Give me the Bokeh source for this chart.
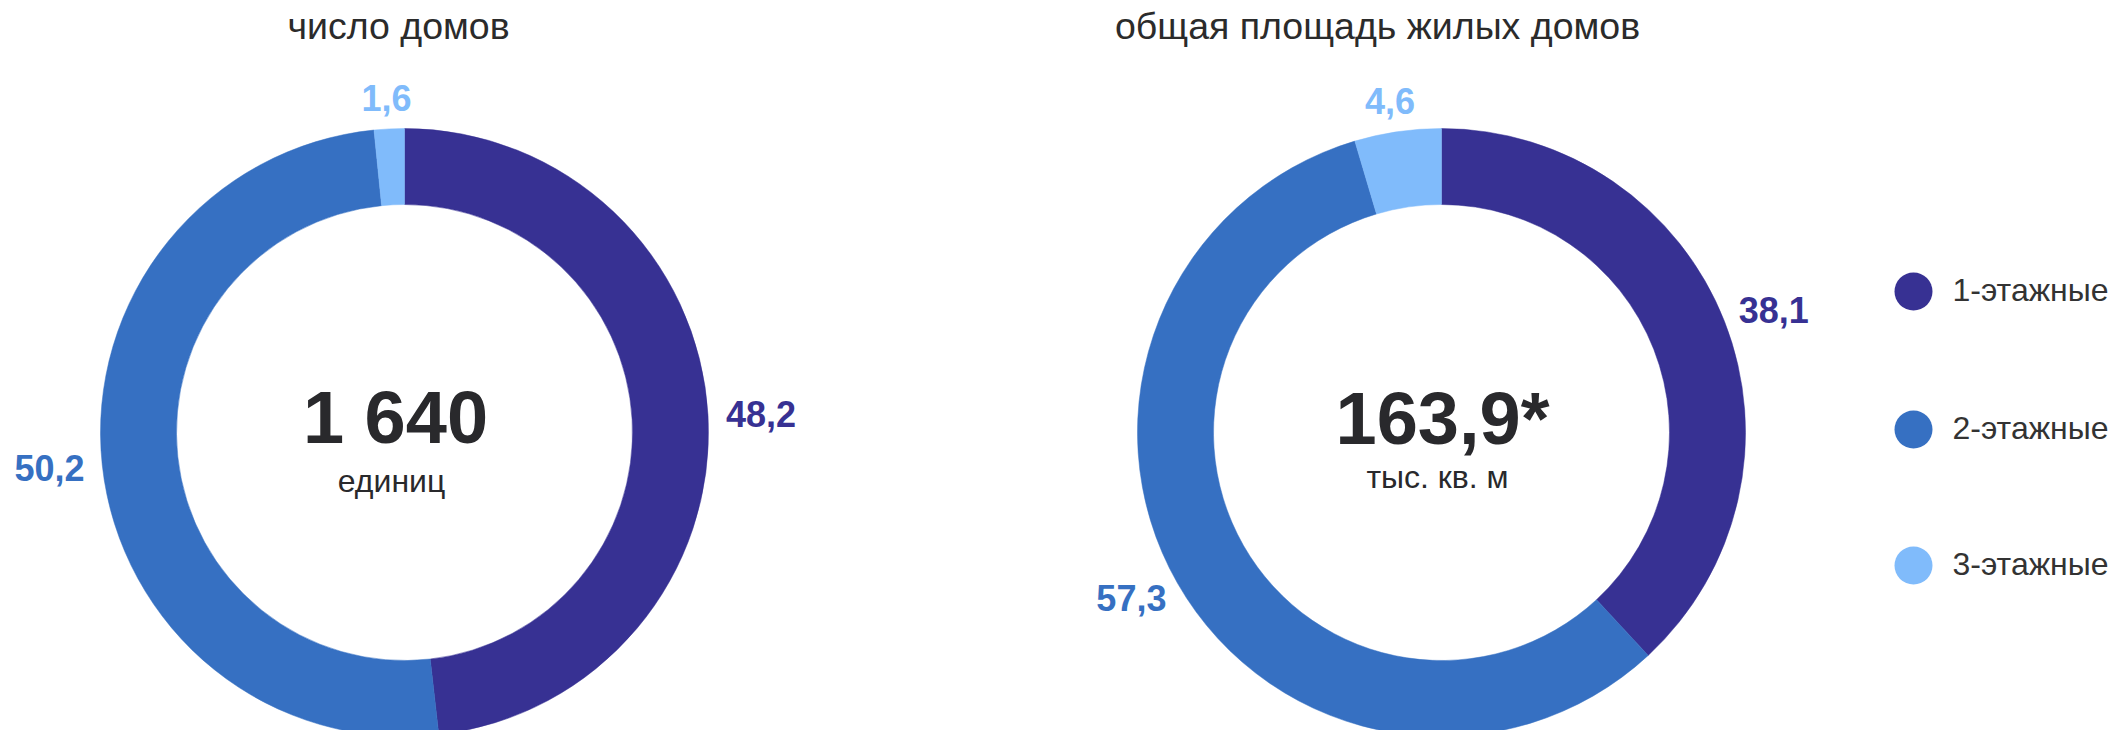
import numpy as np
from bokeh.plotting import figure
from bokeh.models import ColumnDataSource, Range1d
from bokeh.core.properties import value
from bokeh.embed import file_html
from bokeh.resources import INLINE

# ---------------- data ----------------
categories = ["1-этажные", "2-этажные", "3-этажные"]
houses_share = [48.2, 50.2, 1.6]      # % of number of houses
area_share = [38.1, 57.3, 4.6]        # % of total floor area
houses_total = "1 640"
houses_unit = "единиц"
area_total = "163,9*"
area_unit = "тыс. кв. м"
titles = ["число домов", "общая площадь жилых домов"]
colors = ["#373193", "#3670C2", "#80BBFB"]

# ---------------- layout / style ----------------
FONT = value("Liberation Sans")
W, H = 2113, 730
OUTER_R, INNER_R = 304, 228
LABEL_GAP = 18            # distance from ring to nearest edge of a label
LABEL_SIZE = 36
LABEL_HALF_W, LABEL_HALF_H = 35, 13


def Y(screen_y):
    # convert a page pixel row into the figure's data y
    return H - screen_y


p = figure(width=W, height=H, x_range=Range1d(0, W), y_range=Range1d(0, H),
           output_backend="svg", toolbar_location=None,
           x_axis_type=None, y_axis_type=None,
           min_border=0, min_border_left=0, min_border_right=0,
           min_border_top=0, min_border_bottom=0)
p.grid.visible = False
p.outline_line_color = None
p.background_fill_color = "white"
p.border_fill_color = "white"


def fmt(v):
    return f"{v:.1f}".replace(".", ",")


def donut(cx, cy, shares):
    fr = np.array(shares, dtype=float) / float(sum(shares))
    cum = np.concatenate([[0.0], np.cumsum(fr)])
    start = np.pi / 2 - 2 * np.pi * cum[:-1]
    end = np.pi / 2 - 2 * np.pi * cum[1:]
    mid = (start + end) / 2
    ux, uy = np.cos(mid), np.sin(mid)
    rr = OUTER_R + LABEL_GAP
    # label box touches the ring: shift its centre outwards by its half size
    lx = cx + rr * ux + LABEL_HALF_W * ux
    ly = cy + rr * uy + LABEL_HALF_H * uy
    src = ColumnDataSource(dict(
        start=start, end=end, color=colors, lx=lx, ly=ly,
        txt=[fmt(v) for v in shares],
    ))
    p.annular_wedge(x=cx, y=cy, inner_radius=INNER_R, outer_radius=OUTER_R,
                    start_angle="start", end_angle="end", direction="clock",
                    fill_color="color", line_color="color", line_width=0.5,
                    source=src)
    p.text(x="lx", y="ly", text="txt", text_color="color", source=src,
           text_font=FONT, text_font_style="bold",
           text_font_size=value(f"{LABEL_SIZE}px"),
           text_align="center", text_baseline="middle")


# left donut: number of houses
c1x, c1y = 404, Y(432)
donut(c1x, c1y, houses_share)
# right donut: total floor area
c2x, c2y = 1441, Y(432)
donut(c2x, c2y, area_share)

# titles
p.text(x=[398, 1377], y=[Y(25), Y(25)], text=titles, text_color="#2b2b2b",
       text_font=FONT, text_font_size=value("37.5px"),
       text_align="center", text_baseline="alphabetic")

# centre numbers
p.text(x=[c1x - 9, c2x + 1], y=[Y(417), Y(418)], text=[houses_total, area_total],
       text_color="#29292c", text_font=FONT, text_font_style="bold",
       text_font_size=value("74px"), text_align="center", text_baseline="alphabetic")
p.text(x=[c1x - 13, c2x - 4], y=[Y(480), Y(476)], text=[houses_unit, area_unit],
       text_color="#29292c", text_font=FONT,
       text_font_size=value("32px"), text_align="center", text_baseline="alphabetic")

# legend
leg_y = [Y(291), Y(429), Y(565)]
leg_src = ColumnDataSource(dict(x=[1913] * 3, y=leg_y, color=colors,
                                tx=[1952] * 3, ty=[v + 2 for v in leg_y],
                                label=categories))
p.scatter(x="x", y="y", size=38, marker="circle", fill_color="color",
          line_color=None, source=leg_src)
p.text(x="tx", y="ty", text="label", text_color="#333333", source=leg_src,
       text_font=FONT, text_font_size=value("32px"),
       text_align="left", text_baseline="middle")

open("out.html", "w").write(file_html(p, INLINE))
